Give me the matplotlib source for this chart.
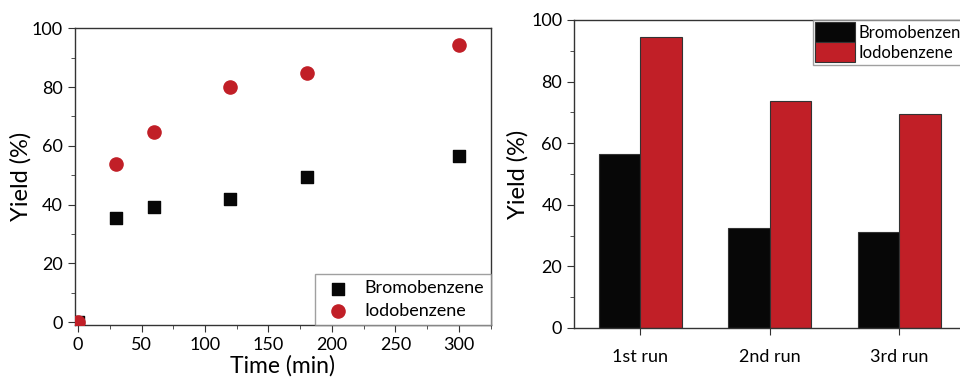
import matplotlib
matplotlib.use('Agg')
import matplotlib.pyplot as plt
import matplotlib.ticker as ticker
import numpy as np

# left panel: yield vs time
times = [0, 30, 60, 120, 180, 300]
bromo_time = [0, 35.4, 39.1, 41.9, 49.3, 56.5]
iodo_time = [0, 53.9, 64.7, 80.0, 84.9, 94.3]

# right panel: recycling runs
runs = ['1st run', '2nd run', '3rd run']
bromo_runs = [56.5, 32.4, 31.1]
iodo_runs = [94.4, 73.8, 69.6]

plt.rcParams['font.family'] = ['Lato', 'DejaVu Sans']

black = '#070707'
red = '#c11f27'
spine_c = '#333333'

fig = plt.figure(figsize=(9.6, 3.77), dpi=100)

def style_axes(ax):
    for s in ax.spines.values():
        s.set_color(spine_c)
        s.set_linewidth(1.0)
    ax.tick_params(which='both', direction='out', color=spine_c, labelsize=13)
    ax.tick_params(which='major', length=5)
    ax.tick_params(which='minor', length=3)

# ---- left: scatter ----
ax1 = fig.add_axes([0.078, 0.138, 0.433, 0.787])
ax1.scatter(times, bromo_time, marker='s', s=80, color=black, label='Bromobenzene', zorder=3)
ax1.scatter(times, iodo_time, marker='o', s=90, color=red, label='Iodobenzene', zorder=4)
ax1.set_xlim(-2.5, 325)
ax1.set_ylim(-1, 100)
ax1.xaxis.set_major_locator(ticker.MultipleLocator(50))
ax1.xaxis.set_minor_locator(ticker.MultipleLocator(25))
ax1.yaxis.set_major_locator(ticker.MultipleLocator(20))
ax1.yaxis.set_minor_locator(ticker.MultipleLocator(10))
style_axes(ax1)
ax1.set_xlabel('Time (min)', fontsize=16.5, labelpad=2)
ax1.set_ylabel('Yield (%)', fontsize=17, labelpad=0)
leg1 = ax1.legend(loc='lower right', fontsize=13, frameon=True, fancybox=False,
                  borderaxespad=0, handlelength=1.9, handletextpad=0.5,
                  borderpad=0.35, labelspacing=0.35)
leg1.get_frame().set_edgecolor('#888888')
leg1.get_frame().set_linewidth(1.0)

# ---- right: bars ----
ax2 = fig.add_axes([0.598, 0.130, 0.4077, 0.817])
x = np.arange(len(runs))
w = 0.32
ax2.bar(x - w / 2, bromo_runs, w, color=black, edgecolor='#333333', linewidth=0.8, label='Bromobenzene')
ax2.bar(x + w / 2, iodo_runs, w, color=red, edgecolor='#333333', linewidth=0.8, label='Iodobenzene')
ax2.set_xlim(-0.509, 2.509)
ax2.set_ylim(0, 100)
ax2.set_xticks(x)
ax2.set_xticklabels(runs)
ax2.yaxis.set_major_locator(ticker.MultipleLocator(20))
ax2.yaxis.set_minor_locator(ticker.MultipleLocator(10))
style_axes(ax2)
ax2.tick_params(axis='x', labelsize=13, pad=10)
ax2.set_ylabel('Yield (%)', fontsize=17, labelpad=2)
leg2 = ax2.legend(loc='upper left', bbox_to_anchor=(812.7 / 960, 357 / 377),
                  bbox_transform=fig.transFigure, fontsize=12, frameon=True, fancybox=False,
                  borderaxespad=0, borderpad=0.15, labelspacing=0.0, handlelength=2.4,
                  handleheight=1.45, handletextpad=0.2)
leg2.get_frame().set_edgecolor('#888888')
leg2.get_frame().set_linewidth(1.0)

fig.savefig('out.png', dpi=100)
